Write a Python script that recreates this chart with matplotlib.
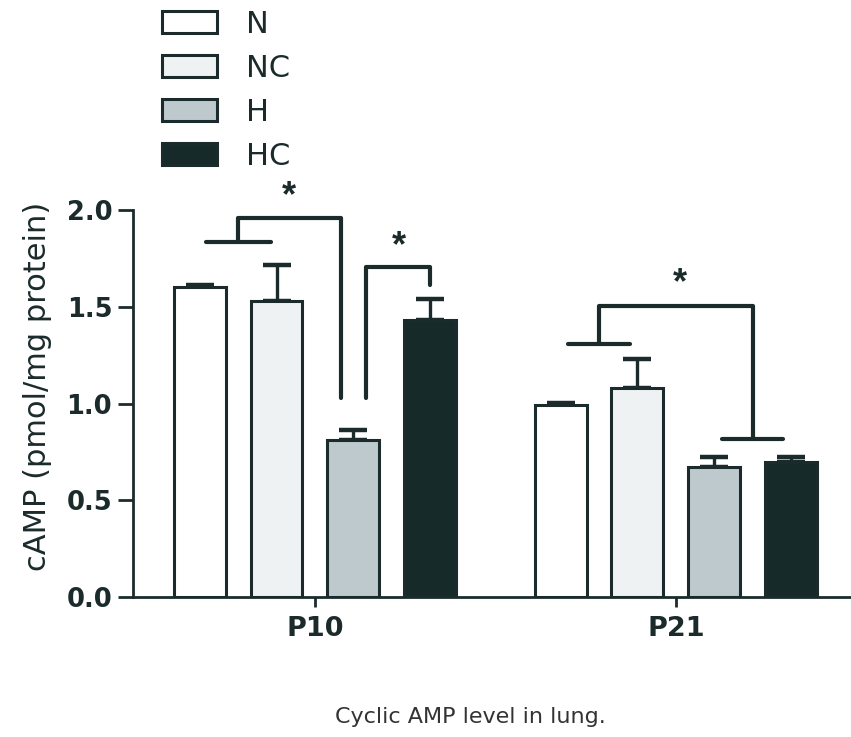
import numpy as np
import matplotlib.pyplot as plt

plt.rcParams['font.family'] = ['DejaVu Sans']

grupos = ['P10', 'P21']
series = ['N', 'NC', 'H', 'HC']
valores = {'N': [1.60, 0.99], 'NC': [1.53, 1.08], 'H': [0.81, 0.67], 'HC': [1.43, 0.70]}
errores = {'N': [0.015, 0.015], 'NC': [0.185, 0.15], 'H': [0.055, 0.055], 'HC': [0.11, 0.025]}
colores = {'N': '#ffffff', 'NC': '#eef2f2', 'H': '#bdc9cc', 'HC': '#172a2a'}
yticks = [0.0, 0.5, 1.0, 1.5, 2.0]

oscuro = '#1b2b2b'
paso = 0.213
ancho = 0.144

fig = plt.figure(figsize=(8.51, 7.37), dpi=100)
ax = fig.add_axes([0.1563, 0.19, 0.8437, 0.525])

x = np.arange(len(grupos))
pos = {}
for i, s in enumerate(series):
    xs = x + (i - 1.5) * paso
    pos[s] = xs
    ax.bar(xs, valores[s], width=ancho, color=colores[s], edgecolor=oscuro,
           linewidth=2.2, zorder=3, label=s)
    ax.errorbar(xs, valores[s], yerr=[np.zeros(len(grupos)), errores[s]], fmt='none',
                ecolor=oscuro, elinewidth=2.4, capsize=10, capthick=3.2, zorder=2)

ax.set_xlim(-0.504, 1.485)
ax.set_ylim(0, 2.0)
ax.set_yticks(yticks)
ax.set_yticklabels([f'{t:.1f}' for t in yticks], fontsize=18.5, fontweight='bold', color=oscuro)
ax.set_xticks(x)
ax.set_xticklabels(grupos, fontsize=19.5, fontweight='bold', color=oscuro)
ax.set_ylabel('cAMP (pmol/mg protein)', fontsize=22, color=oscuro)
ax.yaxis.set_label_coords(-0.113, 0.545)
for lado in ['top', 'right']:
    ax.spines[lado].set_visible(False)
for lado in ['left', 'bottom']:
    ax.spines[lado].set_linewidth(2.0)
    ax.spines[lado].set_color(oscuro)
ax.tick_params(axis='y', length=11, width=2, color=oscuro, pad=4)
ax.tick_params(axis='x', length=7, width=2, color=oscuro, pad=7)


def linea(xs, ys):
    ax.plot(xs, ys, color=oscuro, lw=3, solid_capstyle='round', solid_joinstyle='round',
            clip_on=False, zorder=4)


def estrella(xc, yc):
    ax.text(xc, yc, '*', ha='center', va='bottom', fontsize=26, fontweight='bold',
            color=oscuro, family='Liberation Sans')


# P10: (N, NC) vs H
nn = (pos['N'][0] + pos['NC'][0]) / 2
linea([nn - 0.09, nn + 0.09], [1.836, 1.836])
linea([nn, nn, pos['H'][0] - 0.035, pos['H'][0] - 0.035], [1.836, 1.96, 1.96, 1.03])
estrella((nn + pos['H'][0]) / 2 - 0.02, 1.98)
# P10: H vs HC
linea([pos['H'][0] + 0.035, pos['H'][0] + 0.035, pos['HC'][0], pos['HC'][0]],
      [1.03, 1.705, 1.705, 1.61])
estrella((pos['H'][0] + pos['HC'][0]) / 2 + 0.02, 1.72)
# P21: (N, NC) vs (H, HC)
nn2 = (pos['N'][1] + pos['NC'][1]) / 2
hh2 = (pos['H'][1] + pos['HC'][1]) / 2
linea([nn2 - 0.085, nn2 + 0.085], [1.307, 1.307])
linea([nn2, nn2, hh2, hh2], [1.307, 1.505, 1.505, 0.816])
linea([hh2 - 0.085, hh2 + 0.085], [0.816, 0.816])
estrella((nn2 + hh2) / 2 + 0.01, 1.53)

# leyenda
h, l = ax.get_legend_handles_labels()
fig.legend(h, l, loc='upper left', bbox_to_anchor=(0.158, 1.024), frameon=False,
           fontsize=22, handlelength=1.8, handleheight=0.7, labelspacing=0.49,
           handletextpad=0.95, labelcolor=oscuro)

fig.text(0.553, 0.027, 'Cyclic AMP level in lung.', ha='center', va='center',
         fontsize=16, color='#333333')

fig.savefig('out.png', dpi=100)
